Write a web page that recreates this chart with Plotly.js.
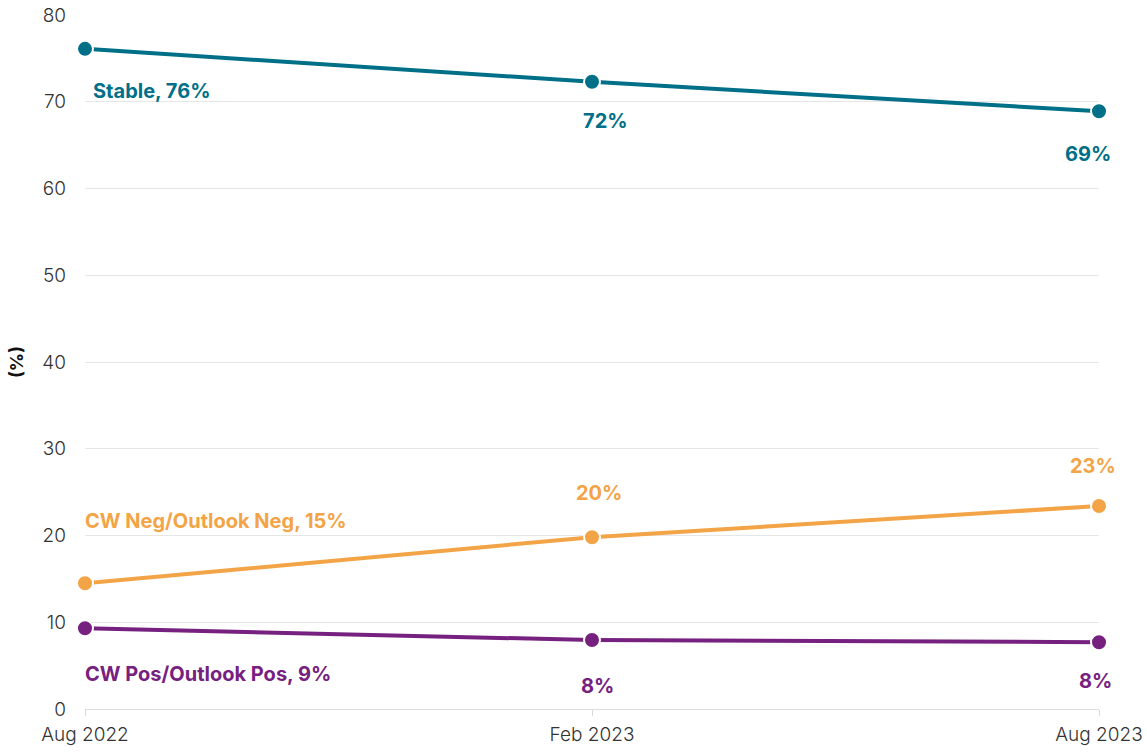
<!DOCTYPE html>
<html>
<head>
<meta charset="utf-8">
<script src="https://cdn.plot.ly/plotly-3.0.1.min.js"></script>
<style>html,body{margin:0;padding:0;background:#fff}#chart{width:1147px;height:753px}</style>
</head>
<body>
<div id="chart"></div>
<script>
const periods = ["Aug 2022", "Feb 2023", "Aug 2023"];
const stable = [76.1, 72.3, 68.9];
const cwNeg = [14.5, 19.8, 23.4];
const cwPos = [9.3, 7.95, 7.7];
const seriesNames = ["Stable", "CW Neg/Outlook Neg", "CW Pos/Outlook Pos"];
const colors = ["#006f88", "#f2a447", "#76207f"];
const yTicks = [0, 10, 20, 30, 40, 50, 60, 70, 80];

const allSeries = [stable, cwNeg, cwPos];
const traces = allSeries.map((vals, i) => ({
  type: "scatter",
  mode: "lines+markers",
  x: periods,
  y: vals,
  name: seriesNames[i],
  line: {color: colors[i], width: 4},
  marker: {color: colors[i], size: 16, line: {color: "#ffffff", width: 2}},
  cliponaxis: false,
  hoverinfo: "skip"
}));

const labelSpec = [
  [[6, -42, "left"], [13, -39, "center"], [-11, -43, "center"]],
  [[-2, 62, "left"], [7, 44, "center"], [-6, 40, "center"]],
  [[-2, -46, "left"], [5, -46, "center"], [-4, -39, "center"]]
];
const annotations = [];
allSeries.forEach((vals, i) => {
  vals.forEach((v, j) => {
    const pct = Math.round(v) + "%";
    const txt = j === 0 ? seriesNames[i] + ", " + pct : pct;
    const s = labelSpec[i][j];
    annotations.push({
      x: periods[j], y: v, xref: "x", yref: "y",
      text: txt, showarrow: false,
      xanchor: s[2], yanchor: "middle",
      xshift: s[0], yshift: s[1],
      font: {family: "Inter, sans-serif", size: 20, color: colors[i], weight: 700}
    });
  });
});

const layout = {
  width: 1147, height: 753,
  margin: {l: 85, r: 48, t: 15, b: 44},
  paper_bgcolor: "#ffffff", plot_bgcolor: "#ffffff",
  showlegend: false,
  font: {family: "Inter, sans-serif", color: "#333333"},
  xaxis: {
    type: "category", range: [0, 2],
    showgrid: false, zeroline: false, showline: false,
    ticks: "outside", ticklen: 6, tickcolor: "#d9d9d9", tickwidth: 1,
    tickfont: {size: 19, color: "#333333", family: "Inter, sans-serif", weight: 300},
    ticklabelstandoff: 2,
    fixedrange: true
  },
  yaxis: {
    range: [0, 80], tickvals: yTicks,
    showgrid: true, gridcolor: "#e6e6e6", gridwidth: 1,
    zeroline: true, zerolinecolor: "#dcdcdc", zerolinewidth: 1,
    showline: false, ticks: "",
    tickfont: {size: 19, color: "#333333", family: "Inter, sans-serif", weight: 300},
    ticklabelstandoff: 18,
    title: {text: "(%)", font: {size: 18, color: "#111111", family: "Inter, sans-serif", weight: 700}, standoff: 14},
    fixedrange: true
  },
  annotations: annotations
};

Plotly.newPlot("chart", traces, layout, {displayModeBar: false, staticPlot: true});
</script>
</body>
</html>
